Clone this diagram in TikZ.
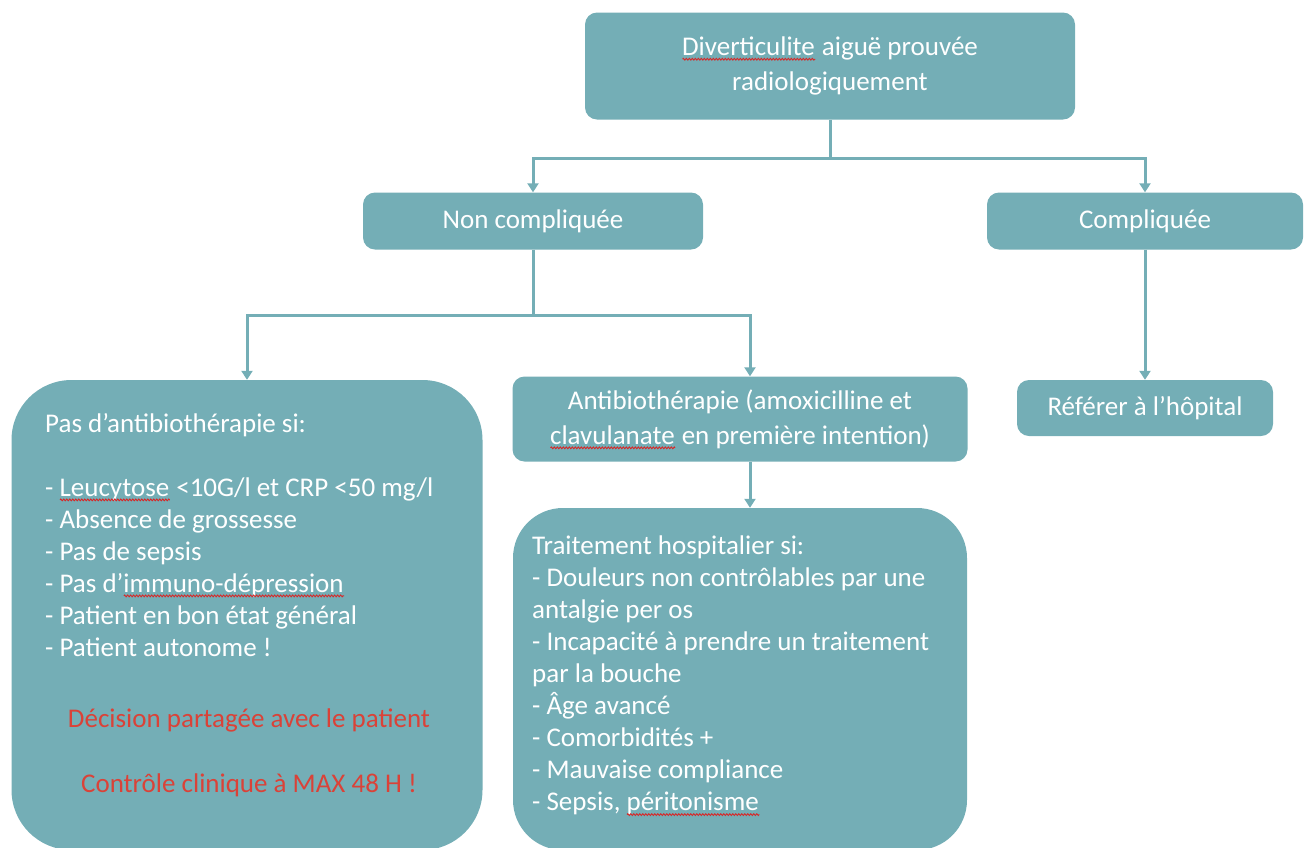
\documentclass[tikz,border=0pt]{standalone}
\usepackage{fontspec}
\setmainfont{Carlito}
\usetikzlibrary{arrows.meta,positioning,decorations.pathmorphing}
\definecolor{boxteal}{RGB}{116,174,182}
\definecolor{alertred}{RGB}{218,66,56}
\definecolor{squig}{RGB}{215,40,40}
% red wavy underline under a word
\newsavebox\spellbox
\newcommand\spellwave[1]{\sbox\spellbox{#1}\rlap{\usebox\spellbox}%
  \smash{\raisebox{-5pt}{\tikz\draw[squig,sharp corners,line width=0.9pt,decorate,
    decoration={zigzag,segment length=3pt,amplitude=0.9pt}](0pt,0pt)--(\wd\spellbox,0pt);}}}
\begin{document}
\begin{tikzpicture}[x=1pt,y=-1pt,every node/.style={inner sep=0pt}]
\tikzstyle{box}=[fill=boxteal,rounded corners=12pt,text=white,align=center,font=\fontsize{27}{35}\selectfont]
\tikzstyle{listtext}=[text=white,align=left,font=\fontsize{27}{32}\selectfont]
\tikzstyle{redtext}=[text=alertred,font=\fontsize{27}{32}\selectfont]
\tikzstyle{arrow}=[draw,boxteal,line width=3pt,-{Triangle[width=11pt,length=9pt]}]
\useasboundingbox (0,0) rectangle (1307,847);

\node[box,minimum width=490pt,minimum height=107pt](diag) at (830,66)
  {\spellwave{Diverticulite} aiguë prouvée\\radiologiquement};
\node[box,minimum width=340pt,minimum height=57pt](noncomp) at (533,221) {Non compliquée};
\node[box,minimum width=316pt,minimum height=57pt](comp) at (1145,221) {Compliquée};
\node[box,minimum width=256pt,minimum height=56pt](hopital) at (1145,408) {Référer à l’hôpital};
\node[box,minimum width=455pt,minimum height=85pt](antibio) at (740,419)
  {Antibiothérapie (amoxicilline et\\\spellwave{clavulanate} en première intention)};

% big boxes, cut by the lower edge
\node[box,rounded corners=60pt,minimum width=471pt,minimum height=470pt](nopas) at (247,615) {};
\node[box,rounded corners=50pt,minimum width=454pt,minimum height=342pt](hospit) at (740,679) {};

\node[listtext,anchor=north west](nopaslist) at (45,413)
  {Pas d’antibiothérapie si:\\[32pt]
   - \spellwave{Leucytose} <10G/l et CRP <50 mg/l\\
   - Absence de grossesse\\
   - Pas de sepsis\\
   - Pas d’\spellwave{immuno-dépression}\\
   - Patient en bon état général\\
   - Patient autonome !};
\node[redtext](decision) at (249,720) {Décision partagée avec le patient};
\node[redtext](controle) at (249,785) {Contrôle clinique à MAX 48 H !};

\node[listtext,anchor=north west](hospitlist) at (532,536)
  {Traitement hospitalier si:\\
   - Douleurs non contrôlables par une\\
   antalgie per os\\
   - Incapacité à prendre un traitement\\
   par la bouche\\
   - Âge avancé\\
   - Comorbidités +\\
   - Mauvaise compliance\\
   - Sepsis, \spellwave{péritonisme}};

\coordinate(split1) at (830,158);
\coordinate(split2) at (533,315);

\draw[boxteal,line width=3pt](diag.south)--(split1);
\path[arrow](split1)-|(noncomp.north);
\path[arrow](split1)-|(comp.north);
\path[arrow](comp.south)--(hopital.north);

\draw[boxteal,line width=3pt](noncomp.south)--(split2);
\path[arrow](split2)-|(nopas.north);
\path[arrow](split2)-|([xshift=10pt]antibio.north);
\path[arrow]([xshift=10pt]antibio.south)--([xshift=10pt]hospit.north);
\end{tikzpicture}
\end{document}
